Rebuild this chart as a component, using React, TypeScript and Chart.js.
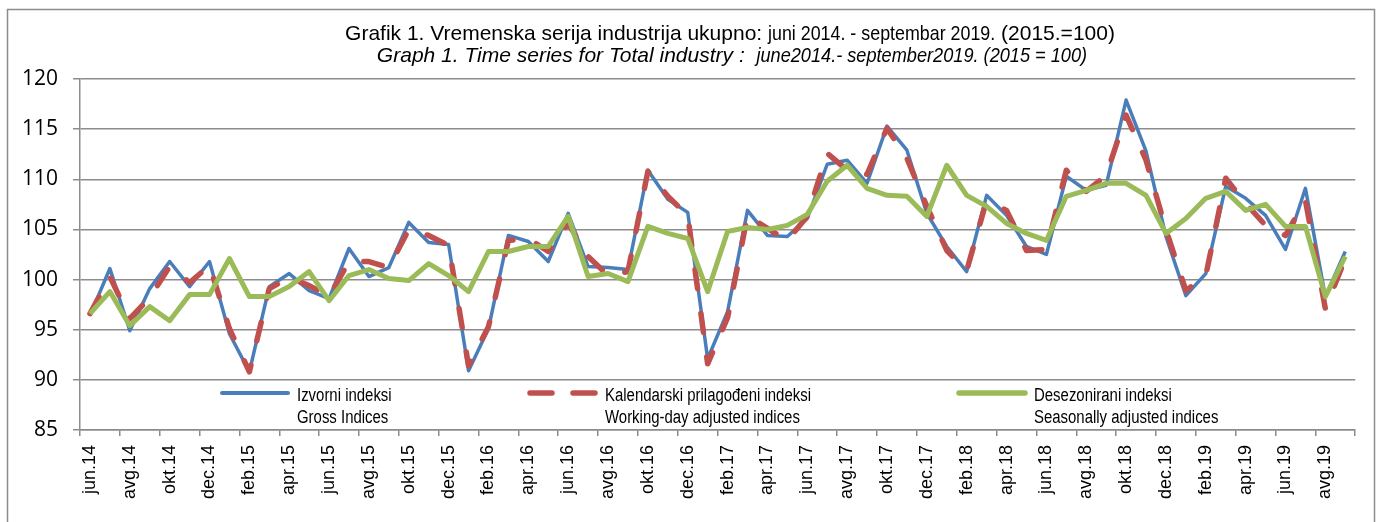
import React, { useEffect, useRef } from 'react';
import { Chart, registerables } from 'chart.js';

Chart.register(...registerables);

const monthLabels = [
  'jun.14', 'jul.14', 'avg.14', 'sep.14', 'okt.14', 'nov.14', 'dec.14',
  'jan.15', 'feb.15', 'mar.15', 'apr.15', 'maj.15', 'jun.15', 'jul.15', 'avg.15', 'sep.15', 'okt.15', 'nov.15', 'dec.15',
  'jan.16', 'feb.16', 'mar.16', 'apr.16', 'maj.16', 'jun.16', 'jul.16', 'avg.16', 'sep.16', 'okt.16', 'nov.16', 'dec.16',
  'jan.17', 'feb.17', 'mar.17', 'apr.17', 'maj.17', 'jun.17', 'jul.17', 'avg.17', 'sep.17', 'okt.17', 'nov.17', 'dec.17',
  'jan.18', 'feb.18', 'mar.18', 'apr.18', 'maj.18', 'jun.18', 'jul.18', 'avg.18', 'sep.18', 'okt.18', 'nov.18', 'dec.18',
  'jan.19', 'feb.19', 'mar.19', 'apr.19', 'maj.19', 'jun.19', 'jul.19', 'avg.19', 'sep.19',
];

const grossIndices = [
  96.4, 101.1, 94.9, 99.1, 101.8, 99.3, 101.8,
  94.6, 90.8, 99.3, 100.6, 98.9, 98.1, 103.1, 100.3, 101.2, 105.7, 103.7, 103.5,
  90.9, 95.1, 104.4, 103.8, 101.8, 106.6, 101.3, 101.2, 101.0, 110.9, 108.0, 106.7,
  92.1, 96.8, 106.9, 104.4, 104.3, 106.1, 111.5, 111.9, 109.6, 115.3, 112.9, 106.6,
  103.3, 100.8, 108.4, 106.4, 103.3, 102.5, 110.3, 108.9, 109.4, 117.9, 112.8, 104.3,
  98.4, 100.6, 109.3, 108.1, 106.4, 103.0, 109.1, 98.3, 102.8,
];

const workingDayIndices = [
  96.6, 100.3, 96.1, 98.2, 101.3, 99.7, 101.4,
  95.1, 90.8, 99.1, 100.2, 99.4, 98.3, 101.8, 101.8, 101.2, 105.0, 104.4, 103.4,
  91.4, 95.3, 103.9, 104.1, 102.8, 105.6, 102.3, 100.4, 100.8, 110.8, 108.3, 106.4,
  91.6, 96.2, 106.4, 105.1, 103.9, 106.3, 112.6, 110.9, 110.5, 115.1, 112.1, 107.3,
  102.9, 100.9, 107.9, 106.9, 102.9, 103.0, 110.9, 108.8, 110.4, 116.4, 111.9, 105.0,
  98.9, 100.4, 110.1, 107.6, 105.4, 104.4, 107.9, 97.1, 102.1,
];

const seasonalIndices = [
  96.6, 98.8, 95.4, 97.3, 95.9, 98.5, 98.5,
  102.1, 98.3, 98.3, 99.3, 100.8, 97.9, 100.4, 101.0, 100.1, 99.9, 101.6, 100.4,
  98.8, 102.8, 102.8, 103.3, 103.3, 106.3, 100.3, 100.6, 99.8, 105.3, 104.6, 104.1,
  98.8, 104.8, 105.2, 105.0, 105.4, 106.5, 109.8, 111.4, 109.1, 108.4, 108.3, 106.3,
  111.4, 108.4, 107.3, 105.6, 104.6, 103.9, 108.3, 108.9, 109.6, 109.6, 108.4, 104.6,
  106.1, 108.1, 108.8, 106.9, 107.5, 105.3, 105.3, 98.3, 102.3,
];

const seriesNamesLocal = ['Izvorni indeksi', 'Kalendarski prilagođeni indeksi', 'Desezonirani indeksi'];
const seriesNamesEnglish = ['Gross Indices', 'Working-day adjusted indices', 'Seasonally adjusted indices'];

const titleLine1 = ['Grafik 1. Vremenska serija industrija ukupno: ', 'juni 2014. - septembar 2019.', ' (2015.=100)'];
const titleLine2 = ['Graph 1. Time series for Total industry :  ', 'june2014.- september2019. (2015 = 100)'];

const Y_MIN = 85;
const Y_MAX = 120;
const Y_STEP = 5;

const BLUE = '#4a7ebb';
const RED = '#c0504d';
const GREEN = '#9bbb59';
const GRID = '#8c8c8c';
const FONT = '"Liberation Sans", Arial, sans-serif';

type Seg = { text: string; font: string; scale: number };

function drawSegments(ctx: CanvasRenderingContext2D, segs: Seg[], cx: number, y: number) {
  let total = 0;
  const widths = segs.map((s) => {
    ctx.font = s.font;
    const w = ctx.measureText(s.text).width * s.scale;
    total += w;
    return w;
  });
  let x = cx - total / 2;
  segs.forEach((s, i) => {
    ctx.save();
    ctx.font = s.font;
    ctx.translate(x, y);
    ctx.scale(s.scale, 1);
    ctx.fillText(s.text, 0, 0);
    ctx.restore();
    x += widths[i];
  });
}

const decorPlugin = {
  id: 'decor',
  beforeDraw(chart: any) {
    const ctx = chart.ctx as CanvasRenderingContext2D;
    ctx.save();
    ctx.fillStyle = '#ffffff';
    ctx.fillRect(0, 0, chart.width, chart.height);
    ctx.strokeStyle = GRID;
    ctx.lineWidth = 1.5;
    ctx.strokeRect(7.5, 9.5, 1367, 530);
    ctx.restore();
  },
  afterDraw(chart: any) {
    const ctx = chart.ctx as CanvasRenderingContext2D;
    ctx.save();
    ctx.fillStyle = '#000';
    ctx.textBaseline = 'alphabetic';
    ctx.textAlign = 'left';
    const f1 = `21px ${FONT}`;
    const f2 = `italic 21px ${FONT}`;
    drawSegments(ctx, [
      { text: titleLine1[0], font: f1, scale: 1 },
      { text: titleLine1[1], font: f1, scale: 0.85 },
      { text: titleLine1[2], font: f1, scale: 1 },
    ], 730, 40);
    drawSegments(ctx, [
      { text: titleLine2[0], font: f2, scale: 1 },
      { text: titleLine2[1], font: f2, scale: 0.865 },
    ], 732, 62);
    ctx.restore();
  },
  afterDatasetsDraw(chart: any) {
    const ctx = chart.ctx as CanvasRenderingContext2D;
    const area = chart.chartArea;
    const offsets = [140, 448, 877];
    const colors = [BLUE, RED, GREEN];
    const widths = [4, 5.5, 5.5];
    const dashes = [[], [22, 21], []];
    ctx.save();
    for (let i = 0; i < 3; i++) {
      const x0 = area.left + offsets[i];
      const ys = area.bottom - 37;
      ctx.beginPath();
      ctx.strokeStyle = colors[i];
      ctx.lineWidth = widths[i];
      ctx.lineCap = 'round';
      ctx.setLineDash(dashes[i]);
      ctx.moveTo(x0 + 2, ys);
      ctx.lineTo(x0 + 68, ys);
      ctx.stroke();
      ctx.setLineDash([]);
      ctx.fillStyle = '#000';
      ctx.font = `18px ${FONT}`;
      ctx.textAlign = 'left';
      ctx.textBaseline = 'alphabetic';
      [seriesNamesLocal[i], seriesNamesEnglish[i]].forEach((t, k) => {
        ctx.save();
        ctx.translate(x0 + 77, area.bottom - 29 + k * 22);
        ctx.scale(0.83, 1);
        ctx.fillText(t, 0, 0);
        ctx.restore();
      });
    }
    ctx.restore();
  },
};

export default function App() {
  const canvasRef = useRef<HTMLCanvasElement | null>(null);

  useEffect(() => {
    if (!canvasRef.current) return;
    const chart = new Chart(canvasRef.current, {
      type: 'line',
      data: {
        labels: monthLabels,
        datasets: [
          {
            label: seriesNamesLocal[0],
            data: grossIndices,
            borderColor: BLUE,
            backgroundColor: BLUE,
            borderWidth: 3.5,
            order: 2,
          },
          {
            label: seriesNamesLocal[1],
            data: workingDayIndices,
            borderColor: RED,
            backgroundColor: RED,
            borderWidth: 5.5,
            borderDash: [19, 25],
            borderCapStyle: 'round',
            order: 1,
          },
          {
            label: seriesNamesLocal[2],
            data: seasonalIndices,
            borderColor: GREEN,
            backgroundColor: GREEN,
            borderWidth: 5,
            order: 0,
          },
        ],
      },
      options: {
        responsive: false,
        animation: false,
        events: [],
        layout: { padding: { top: 79, right: 16, bottom: 0, left: 0 } },
        elements: {
          point: { radius: 0, hoverRadius: 0 },
          line: { tension: 0, borderJoinStyle: 'round', fill: false },
        },
        plugins: {
          legend: { display: false },
          title: { display: false },
          tooltip: { enabled: false },
        },
        scales: {
          x: {
            type: 'category',
            offset: true,
            grid: {
              offset: true,
              drawOnChartArea: false,
              drawTicks: true,
              tickLength: 6,
              lineWidth: 1.5,
              tickWidth: 1.5,
              tickColor: (c: any) => (c.index === undefined || c.index % 2 === 0 ? GRID : 'rgba(0,0,0,0)'),
              color: GRID,
            },
            border: { display: true, color: GRID, width: 1.5 },
            ticks: {
              autoSkip: false,
              maxRotation: 90,
              minRotation: 90,
              padding: 9,
              color: '#000',
              font: { family: FONT, size: 18 },
              callback: (_v: any, i: number) => (i % 2 === 0 ? monthLabels[i] : ''),
            },
            afterFit: (s: any) => {
              s.height = 92;
            },
          },
          y: {
            min: Y_MIN,
            max: Y_MAX,
            ticks: {
              stepSize: Y_STEP,
              padding: 15,
              color: '#000',
              font: { family: '"Open Sans", sans-serif', size: 21 },
            },
            grid: {
              color: GRID,
              lineWidth: 1.5,
              tickLength: 7,
              tickColor: GRID,
              drawTicks: true,
            },
            border: { display: true, color: GRID, width: 1.5 },
            afterFit: (s: any) => {
              s.width = 80;
            },
          },
        },
      },
      plugins: [decorPlugin],
    } as any);
    return () => chart.destroy();
  }, []);

  return (
    <div style={{ position: 'absolute', left: 0, top: 0, width: 1376, height: 522, background: '#fff' }}>
      <canvas ref={canvasRef} width={1376} height={522} style={{ display: 'block' }} />
    </div>
  );
}
